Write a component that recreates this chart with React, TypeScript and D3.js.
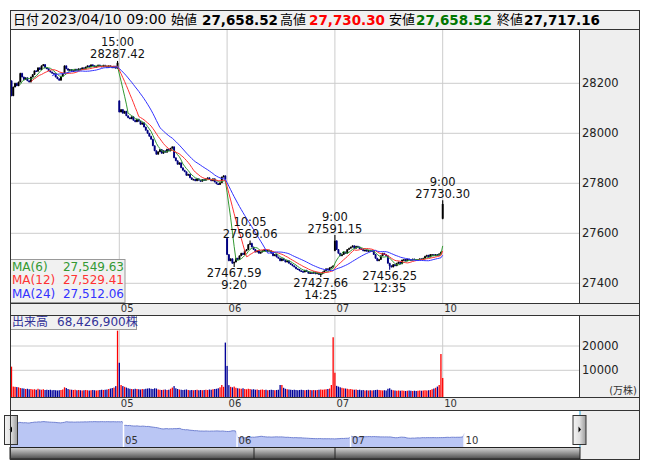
import React from "react";
import * as d3 from "d3";

// ---- data ----
const dayLabels = ["04", "05", "06", "07", "10"];
const dayOpen = [28210, 28130, 27580, 27530, 27658.52];

const close0404 = [
  28150, 28185, 28200, 28190, 28205, 28240, 28225, 28215, 28222, 28210,
  28205, 28225, 28235, 28250, 28248, 28262, 28255, 28270, 28275, 28262,
  28258, 28250, 28245, 28240, 28238, 28225, 28218, 28212, 28228, 28240,
  28270, 28258, 28252, 28255, 28248, 28250, 28256, 28252, 28258, 28255,
  28262, 28258, 28265, 28270, 28266, 28274, 28270, 28265, 28268, 28273,
  28269, 28266, 28272, 28268, 28264, 28270, 28267, 28262, 28268, 28260,
  28282,
];
const close0405 = [
  28085, 28095, 28080, 28088, 28070, 28062, 28058, 28066, 28052, 28046,
  28056, 28048, 28036, 28042, 28025, 28012, 28000, 27988, 27976, 27950,
  27930, 27916, 27926, 27935, 27920, 27930, 27924, 27936, 27930, 27940,
  27946, 27902, 27890, 27876, 27882, 27862, 27852, 27846, 27832, 27836,
  27822, 27815, 27816, 27810, 27818, 27812, 27808, 27815, 27812, 27818,
  27822, 27815, 27810, 27818, 27805, 27798, 27795, 27802, 27825, 27830,
  27815,
];
const close0406 = [
  27515, 27490, 27498, 27480, 27485, 27500, 27495, 27510, 27520, 27515,
  27530, 27535, 27555, 27560, 27545, 27535, 27525, 27530, 27520, 27525,
  27530, 27535, 27528, 27532, 27530, 27520, 27510, 27515, 27505, 27500,
  27490, 27498, 27492, 27485, 27490, 27480, 27475, 27470, 27465, 27458,
  27455, 27450, 27448, 27445, 27452, 27447, 27440, 27443, 27440, 27445,
  27438, 27442, 27435, 27438, 27445, 27450, 27458, 27455, 27462, 27465,
  27470,
];
const close0407 = [
  27570, 27535, 27520, 27510, 27515, 27525, 27520, 27535, 27540, 27545,
  27550, 27540, 27548, 27545, 27538, 27535, 27530, 27533, 27528, 27532,
  27527, 27530, 27515, 27500, 27490, 27495, 27510, 27520, 27515, 27510,
  27480, 27470, 27465, 27475, 27470, 27480, 27485, 27478, 27493, 27495,
  27490, 27497, 27495, 27493, 27497, 27495, 27492, 27495, 27498, 27497,
  27500, 27508, 27512, 27505, 27515, 27515, 27510, 27515, 27512, 27518,
  27525,
];
const close0410 = [27717.16];

// volume in 万株
const vol0404 = [
  11500, 3300, 3200, 3100, 3000, 2700, 2600, 2500, 2300, 2400,
  2200, 2300, 2100, 2200, 2000, 2400, 2100, 2000, 2200, 1900,
  2000, 1900, 2000, 1800, 1900, 1800, 1700, 1800, 1900, 2100,
  3000, 2700, 2300, 2100, 2000, 1900, 2000, 1800, 1900, 1800,
  1700, 1800, 1900, 1800, 1700, 1800, 1900, 1800, 1700, 1800,
  1900, 2000, 1900, 2000, 2100, 2300, 2500, 2700, 2900, 3500,
  26300,
];
const vol0405 = [
  13100, 3950, 3500, 3200, 2900, 2600, 2400, 2300, 2200, 2400,
  2300, 2200, 2100, 2300, 2200, 2400, 2500, 2600, 2400, 2300,
  2600, 2500, 2100, 2000, 1900, 2000, 2100, 1900, 2000, 2400,
  2900, 3500, 2600, 2300, 2100, 2000, 1900, 2000, 2100, 1900,
  1800, 1900, 1800, 1900, 2000, 1800, 1900, 1800, 1900, 2000,
  1900, 2100, 2000, 2200, 2300, 2400, 2600, 3000, 3950, 3200,
  21400,
];
const vol0406 = [
  11800, 3900, 3200, 3000, 3300, 2800, 2600, 2500, 2400, 2600,
  2300, 2200, 2400, 2300, 2100, 2200, 2000, 2100, 1900, 2000,
  2100, 1900, 2000, 1800, 1900, 2000, 1900, 1800, 1900, 2000,
  3950, 3950, 2800, 2400, 2200, 2100, 2000, 1900, 2000, 1900,
  1800, 1900, 2000, 1900, 1800, 1900, 2000, 1900, 1800, 1900,
  1800, 1900, 2000, 2100, 2000, 2100, 2200, 2300, 2500, 3950,
  23600,
];
const vol0407 = [
  9000, 3600, 3300, 3000, 2800, 2600, 2500, 2400, 2200, 2300,
  2100, 2000, 2100, 1900, 2000, 1800, 1900, 1700, 1800, 1700,
  1800, 1700, 1800, 1900, 2000, 1900, 1800, 1700, 1800, 1700,
  2400, 2600, 2000, 1800, 1700, 1600, 1700, 1600, 1700, 1600,
  1500, 1600, 1700, 1600, 1500, 1600, 1500, 1600, 1700, 1600,
  1700, 1800, 1700, 1800, 1900, 2200, 2500, 2800, 3300, 3950,
  16700,
];
const vol0410 = [6842.69];

// marked highs / lows (day index, bar index within day)
const extremes = [
  { day: 0, i: 60, kind: "high", time: "15:00", value: 28287.42 },
  { day: 2, i: 4, kind: "low", time: "9:20", value: 27467.59 },
  { day: 2, i: 13, kind: "high", time: "10:05", value: 27569.06 },
  { day: 2, i: 53, kind: "low", time: "14:25", value: 27427.66 },
  { day: 3, i: 0, kind: "high", time: "9:00", value: 27591.15 },
  { day: 3, i: 31, kind: "low", time: "12:35", value: 27456.25 },
  { day: 4, i: 0, kind: "high", time: "9:00", value: 27730.3 },
];

const priceTicks = [27400, 27600, 27800, 28000, 28200];
const volumeTicks = [10000, 20000];
const maPeriods = [6, 12, 24];
const maValues = ["27,549.63", "27,529.41", "27,512.06"];
const volumeTotal = "68,426,900株";

const header = {
  date: "2023/04/10 09:00",
  open: "27,658.52",
  high: "27,730.30",
  low: "27,658.52",
  close: "27,717.16",
};

// ---- styling / layout ----
const FONT = "'DejaVu Sans', 'Noto Sans CJK JP', sans-serif";
const maColors = ["#339933", "#ff3333", "#3333ff"];
const UP = "#000000";
const DOWN = "#000080";
const VOL_UP = "#ff0000";
const VOL_DOWN = "#000099";
const GRID = "#cccccc";
const PANEL = "#eeeeee";
const LINE = "#333333";

const BARS_PER_DAY = 61;
const L = 10;
const R = 640;
const PR = 579;
const mainTop = 29;
const mainBot = 303;
const volTop = 315;
const volBot = 397;
const navTop = 410;
const navBot = 447.5;
const scrBot = 459;

const closes = [close0404, close0405, close0406, close0407, close0410];
const volumes = [vol0404, vol0405, vol0406, vol0407, vol0410];

interface Bar {
  g: number;
  day: number;
  i: number;
  o: number;
  h: number;
  l: number;
  c: number;
  v: number;
  up: boolean;
  volUp: boolean;
}

function buildBars(): Bar[] {
  const out: Bar[] = [];
  closes.forEach((cs, d) => {
    cs.forEach((c, i) => {
      const o = i === 0 ? dayOpen[d] : cs[i - 1];
      const prev = out.length ? out[out.length - 1].c : null;
      out.push({
        g: d * BARS_PER_DAY + i,
        day: d,
        i,
        o,
        c,
        h: Math.max(o, c),
        l: Math.min(o, c),
        v: volumes[d][i],
        up: c >= o,
        volUp: prev === null || c >= prev,
      });
    });
  });
  extremes.forEach((e) => {
    const b = out.find((b) => b.day === e.day && b.i === e.i);
    if (!b) return;
    if (e.kind === "high") b.h = Math.max(b.h, e.value);
    else b.l = Math.min(b.l, e.value);
  });
  return out;
}

const App: React.FC = () => {
  const bars = buildBars();
  const lastG = 4 * BARS_PER_DAY;

  const x = d3.scaleLinear().domain([0, lastG]).range([11.5, 442.7]);
  const y = d3.scaleLinear().domain([27400, 28200]).range([283.3, 83.3]);
  const vy = d3.scaleLinear().domain([0, 20000]).range([394.6, 346]);
  const nx = d3.scaleLinear().domain([0, lastG]).range([10.5, 464.6]);
  const ny = d3.scaleLinear().domain([27430, 28280]).range([439, 421.5]);

  const mas = maPeriods.map((n) =>
    bars.map((b, k) =>
      k < n - 1 ? null : (d3.mean(bars.slice(k - n + 1, k + 1), (d) => d.c) as number)
    )
  );
  const maLine = d3
    .line<number | null>()
    .defined((d) => d !== null)
    .x((_, k) => x(bars[k].g))
    .y((d) => y(d as number));

  const navArea = d3
    .area<Bar>()
    .x((b) => nx(b.g))
    .y0(navBot)
    .y1((b) => ny(b.c));
  const navLine = d3
    .line<Bar>()
    .x((b) => nx(b.g))
    .y((b) => ny(b.c));

  const dayStarts = [1, 2, 3, 4].map((d) => d * BARS_PER_DAY);
  const fmt = d3.format(".2f");

  return (
    <svg
      width={653}
      height={470}
      style={{ position: "absolute", left: 0, top: 0, background: "#fff" }}
      fontFamily={FONT}
    >
      <defs>
        <clipPath id="mainClip">
          <rect x={L} y={mainTop} width={PR - L} height={mainBot - mainTop} />
        </clipPath>
        <linearGradient id="scrollGrad" x1="0" y1="0" x2="0" y2="1">
          <stop offset="0" stopColor="#d8d8d8" />
          <stop offset="1" stopColor="#4a4a4a" />
        </linearGradient>
        <linearGradient id="btnGrad" x1="0" y1="0" x2="1" y2="0">
          <stop offset="0" stopColor="#f4f4f4" />
          <stop offset="0.5" stopColor="#e0e0e0" />
          <stop offset="1" stopColor="#9a9a9a" />
        </linearGradient>
      </defs>

      {/* header */}
      <rect x={L} y={10} width={R - L} height={19} fill="#f0f0f0" />
      <g fontSize={13} fill="#000">
        <text x={13} y={24}>日付</text>
        <text x={41} y={24} fontSize={14}>{header.date}</text>
        <text x={171} y={24}>始値</text>
        <g fontWeight="bold" fontSize={13.5}>
          <text x={202} y={24.5}>{header.open}</text>
          <text x={309} y={24.5} fill="#ff0000">{header.high}</text>
          <text x={416} y={24.5} fill="#007700">{header.low}</text>
          <text x={524} y={24.5}>{header.close}</text>
        </g>
        <text x={280} y={24}>高値</text>
        <text x={389} y={24}>安値</text>
        <text x={497} y={24}>終値</text>
      </g>

      {/* panels */}
      <rect x={PR} y={mainTop} width={R - PR} height={mainBot - mainTop} fill={PANEL} />
      <rect x={L} y={mainBot} width={R - L} height={volTop - mainBot} fill={PANEL} />
      <rect x={PR} y={volTop} width={R - PR} height={volBot - volTop} fill={PANEL} />
      <rect x={L} y={volBot} width={R - L} height={navTop - volBot} fill={PANEL} />
      <rect x={580} y={navTop} width={R - 580} height={scrBot - navTop} fill={PANEL} />

      {/* main grid */}
      {priceTicks.map((t) => (
        <line key={t} x1={L} x2={PR} y1={y(t)} y2={y(t)} stroke={GRID} />
      ))}
      {dayStarts.map((g) => (
        <line key={g} x1={x(g)} x2={x(g)} y1={mainTop} y2={mainBot} stroke={GRID} />
      ))}

      {/* candles + MA */}
      <g clipPath="url(#mainClip)">
        {bars.map((b) => {
          const col = b.up ? UP : DOWN;
          const top = y(Math.max(b.o, b.c));
          const bot = y(Math.min(b.o, b.c));
          return (
            <g key={b.g}>
              <line x1={x(b.g)} x2={x(b.g)} y1={y(b.h) - 0.5} y2={y(b.l) + 0.5} stroke={col} strokeWidth={1.1} />
              <rect x={x(b.g) - 0.95} y={top} width={1.9} height={Math.max(1.2, bot - top)} fill={col} />
            </g>
          );
        })}
        {mas.map((m, k) => (
          <path key={k} d={maLine(m) || ""} fill="none" stroke={maColors[k]} strokeWidth={1} />
        ))}
      </g>

      {/* marked highs / lows */}
      <g fontSize={11.5} fill="#111" textAnchor="middle">
        {extremes.map((e, k) => {
          const cx = x(e.day * BARS_PER_DAY + e.i);
          const py = y(e.value);
          return e.kind === "high" ? (
            <g key={k}>
              <text x={cx} y={py - 15}>{e.time}</text>
              <text x={cx} y={py - 3}>{fmt(e.value)}</text>
            </g>
          ) : (
            <g key={k}>
              <text x={cx} y={py + 10.5}>{fmt(e.value)}</text>
              <text x={cx} y={py + 22.5}>{e.time}</text>
            </g>
          );
        })}
      </g>

      {/* MA legend */}
      <rect x={10.5} y={259.5} width={114.5} height={43} fill="#f0f0f0" fillOpacity={0.95} stroke="#999" />
      <g fontSize={12}>
        {maPeriods.map((n, k) => (
          <g key={n} fill={maColors[k]}>
            <text x={12} y={270.5 + k * 13.5}>{`MA(${n})`}</text>
            <text x={124} y={270.5 + k * 13.5} textAnchor="end">{maValues[k]}</text>
          </g>
        ))}
      </g>

      {/* price axis labels */}
      <g fontSize={11.5} fill="#222">
        {priceTicks.map((t) => (
          <text key={t} x={582} y={y(t) + 4}>{t}</text>
        ))}
      </g>

      {/* date strip 1 */}
      <g fontSize={10} fill="#333">
        {dayStarts.map((g, k) => (
          <text key={g} x={x(g) + 1.5} y={312}>{dayLabels[k + 1]}</text>
        ))}
      </g>

      {/* volume grid + bars */}
      {volumeTicks.map((t) => (
        <line key={t} x1={L} x2={PR} y1={vy(t)} y2={vy(t)} stroke={GRID} />
      ))}
      {dayStarts.map((g) => (
        <line key={g} x1={x(g)} x2={x(g)} y1={volTop} y2={volBot} stroke={GRID} />
      ))}
      {bars.map((b) => (
        <rect
          key={b.g}
          x={x(b.g) - 0.65}
          y={vy(b.v)}
          width={1.3}
          height={volBot - vy(b.v)}
          fill={b.volUp ? VOL_UP : VOL_DOWN}
        />
      ))}
      <rect x={10.5} y={315.5} width={126} height={14} fill="#f0f0f0" fillOpacity={0.95} stroke="#999" />
      <g fontSize={12} fill="#333399">
        <text x={12} y={326}>出来高</text>
        <text x={57} y={326}>{volumeTotal}</text>
      </g>
      <g fontSize={11.5} fill="#222">
        {volumeTicks.map((t) => (
          <text key={t} x={582} y={vy(t) + 4}>{t}</text>
        ))}
      </g>
      <text x={637} y={394} fontSize={10} fill="#333" textAnchor="end">(万株)</text>

      {/* date strip 2 */}
      <g fontSize={10} fill="#333">
        {dayStarts.map((g, k) => (
          <text key={g} x={x(g) + 1.5} y={407}>{dayLabels[k + 1]}</text>
        ))}
      </g>

      {/* navigator */}
      <path d={navArea(bars) || ""} fill="#bac6f4" />
      <path d={navLine(bars) || ""} fill="none" stroke="#7383d2" strokeWidth={1} />
      {dayStarts.map((g) => (
        <line key={g} x1={nx(g) - 0.5} x2={nx(g) - 0.5} y1={navTop} y2={navBot} stroke="#fff" strokeWidth={1.5} />
      ))}
      <g fontSize={10} fill="#333">
        {dayStarts.map((g, k) => (
          <text key={g} x={nx(g) + 1} y={444}>{dayLabels[k + 1]}</text>
        ))}
      </g>
      <line x1={10.5} x2={10.5} y1={navTop} y2={navBot} stroke="#2aa8dc" />
      <line x1={580} x2={580} y1={navTop} y2={navBot} stroke="#2aa8dc" />

      {/* scrollbar */}
      <rect x={L} y={navBot} width={580 - L} height={scrBot - navBot} fill="url(#scrollGrad)" stroke="#222" />
      <line x1={254} x2={254} y1={navBot} y2={scrBot} stroke="#222" />
      <line x1={335} x2={335} y1={navBot} y2={scrBot} stroke="#222" />

      {/* navigator buttons */}
      <rect x={4.5} y={415.5} width={13} height={29} fill="url(#btnGrad)" stroke="#333" />
      <path d="M9.5,429.5 L12,426.5 L12,432.5 Z" fill="#000" />
      <rect x={573} y={415.5} width={13} height={29} fill="url(#btnGrad)" stroke="#333" />
      <path d="M581,429.5 L578.5,426.5 L578.5,432.5 Z" fill="#000" />

      {/* frame lines */}
      <g stroke={LINE} fill="none" shapeRendering="crispEdges">
        <rect x={L + 0.5} y={10.5} width={R - L - 1} height={scrBot - 10.5} />
        <line x1={L} x2={R} y1={29.5} y2={29.5} />
        <line x1={L} x2={R} y1={mainBot + 0.5} y2={mainBot + 0.5} />
        <line x1={L} x2={R} y1={volTop + 0.5} y2={volTop + 0.5} />
        <line x1={L} x2={R} y1={volBot + 0.5} y2={volBot + 0.5} />
        <line x1={L} x2={R} y1={navTop + 0.5} y2={navTop + 0.5} />
        <line x1={PR + 0.5} x2={PR + 0.5} y1={mainTop} y2={mainBot} />
        <line x1={PR + 0.5} x2={PR + 0.5} y1={volTop} y2={volBot} />
      </g>
    </svg>
  );
};

export default App;
